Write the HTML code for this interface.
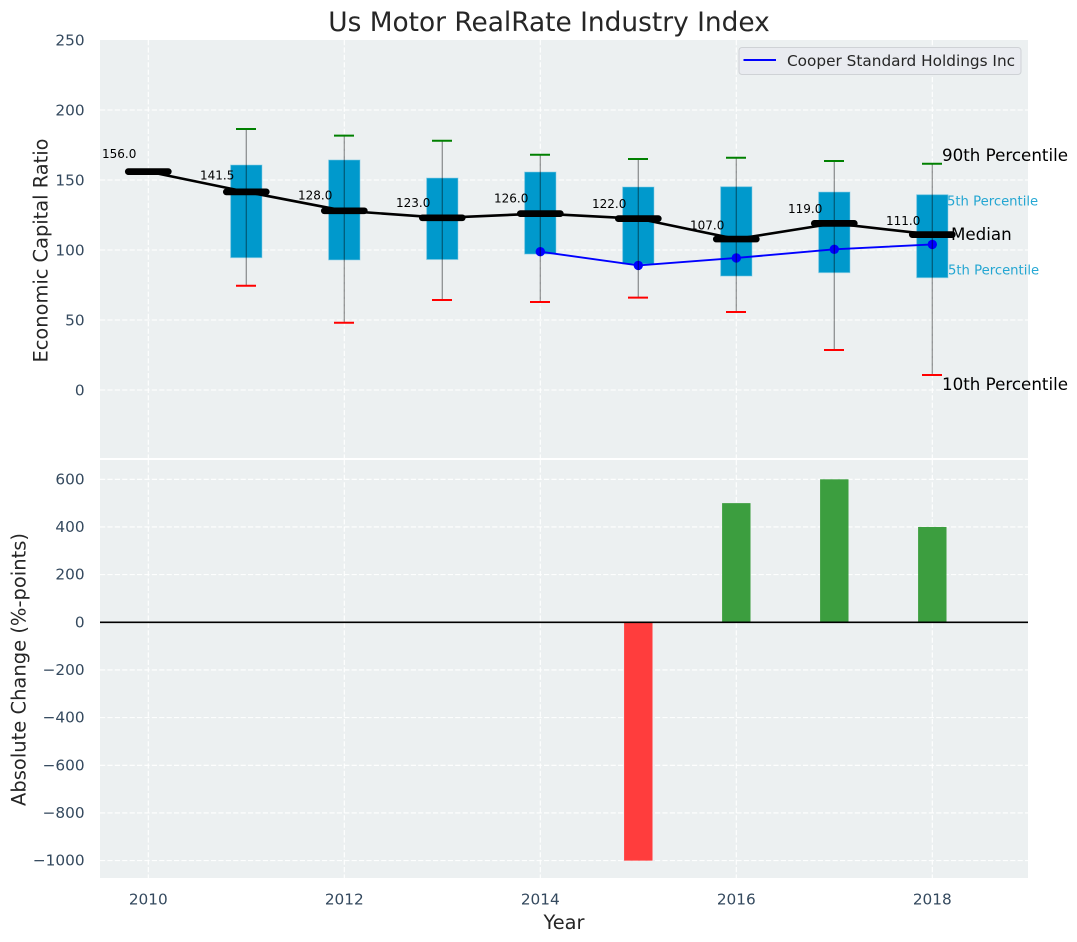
<!DOCTYPE html>
<html lang="en">
<head>
<meta charset="utf-8">
<title>Us Motor RealRate Industry Index</title>
<style>
html,body{margin:0;padding:0;background:#fff;}
svg{display:block;font-family:"DejaVu Sans","Liberation Sans",sans-serif;}
</style>
</head>
<body>
<svg id="chart" width="1077" height="942" viewBox="0 0 1077 942" xmlns="http://www.w3.org/2000/svg">
  <rect x="100" y="40" width="928" height="418" fill="#ecf0f1"/>
  <rect x="100" y="460" width="928" height="418" fill="#ecf0f1"/>
  <g id="grid"></g>
  <g id="annots">
    <text x="938.6" y="205.5" font-size="13.2" fill="#0099cc" fill-opacity="0.85">75th Percentile</text>
    <text x="939.6" y="274.5" font-size="13.2" fill="#0099cc" fill-opacity="0.85">25th Percentile</text>
  </g>
  <g id="boxes"></g>
  <g id="marks"></g>
  <g id="bars"></g>
  <g id="ticks" font-size="15.3" fill="#34495e"></g>
  <g font-size="16.7" fill="#000">
    <text x="942" y="161">90th Percentile</text>
    <text x="951" y="240">Median</text>
    <text x="942" y="390">10th Percentile</text>
  </g>
  <text x="549" y="31" font-size="26.4" fill="#262626" text-anchor="middle">Us Motor RealRate Industry Index</text>
  <text transform="translate(47.5,250.5) rotate(-90)" font-size="19.4" fill="#262626" text-anchor="middle">Economic Capital Ratio</text>
  <text transform="translate(25.5,669.5) rotate(-90)" font-size="19.5" fill="#262626" text-anchor="middle">Absolute Change (%-points)</text>
  <text x="564" y="929" font-size="19.4" fill="#262626" text-anchor="middle">Year</text>
  <g>
    <rect x="739" y="47.5" width="282" height="27" rx="3" fill="#e9ebf0" stroke="#cfd2d6" stroke-width="1"/>
    <line x1="743.5" y1="60" x2="776" y2="60" stroke="#0000ff" stroke-width="2"/>
    <text x="787" y="66" font-size="15.3" fill="#262626">Cooper Standard Holdings Inc</text>
  </g>
</svg>
<script>
var years = [2010, 2011, 2012, 2013, 2014, 2015, 2016, 2017, 2018];
var medians = [156, 141.5, 128, 123, 126, 122.4, 107.8, 119, 111];
var medianLabels = ["156.0", "141.5", "128.0", "123.0", "126.0", "122.0", "107.0", "119.0", "111.0"];
var p90 = [null, 186.4, 181.7, 178, 168, 165, 165.9, 163.6, 161.6];
var p75 = [null, 160.7, 164.3, 151.4, 155.7, 145, 145.2, 141.4, 139.5];
var p25 = [null, 94.5, 92.9, 93.2, 97.1, 90, 81.4, 83.8, 80.2];
var p10 = [null, 74.5, 48, 64.3, 62.9, 66, 55.7, 28.6, 10.7];
var companyYears = [2014, 2015, 2016, 2017, 2018];
var companyValues = [98.8, 89, 94.3, 100.5, 104];
var barYears = [2015, 2016, 2017, 2018];
var barValues = [-1000, 500, 600, 400];
var xTicks = [2010, 2012, 2014, 2016, 2018];
var topTicks = [0, 50, 100, 150, 200, 250];
var bottomTicks = [-1000, -800, -600, -400, -200, 0, 200, 400, 600];

var NS = 'http://www.w3.org/2000/svg';
function linear(d0, d1, r0, r1) {
  return function (v) { return r0 + (v - d0) * (r1 - r0) / (d1 - d0); };
}
var xScale = linear(2010, 2018, 148.3, 932.3);
var yTop = linear(0, 250, 390, 40);
var yBottom = linear(0, 600, 622.3, 479.3);
var pxPerYear = xScale(2011) - xScale(2010);

function make(tag, parentId, attrs) {
  var node = document.createElementNS(NS, tag);
  for (var k in attrs) node.setAttribute(k, attrs[k]);
  document.getElementById(parentId).appendChild(node);
  return node;
}
function minus(v) { return String(v).replace('-', '\u2212'); }
var dash = '5.2 2.2';
var el;

xTicks.forEach(function (t) {
  el = make('line', 'grid', {x1: xScale(t), x2: xScale(t), y1: 40, y2: 458, stroke: '#fff', 'stroke-width': 1.1, 'stroke-dasharray': dash});
  
  
  el = make('line', 'grid', {x1: xScale(t), x2: xScale(t), y1: 460, y2: 878, stroke: '#fff', 'stroke-width': 1.1, 'stroke-dasharray': dash});
  
  
  el = make('text', 'ticks', {x: xScale(t), y: 904.6, 'text-anchor': 'middle'});
  el.textContent = t;
  
  
});
topTicks.forEach(function (t) {
  if (t < 250) {
    el = make('line', 'grid', {x1: 100, x2: 1028, y1: yTop(t), y2: yTop(t), stroke: '#fff', 'stroke-width': 1.1, 'stroke-dasharray': dash});
    
    
  }
  el = make('text', 'ticks', {x: 84.6, y: yTop(t) + 5.6, 'text-anchor': 'end'});
  el.textContent = t;
  
  
});
bottomTicks.forEach(function (t) {
  el = make('line', 'grid', {x1: 100, x2: 1028, y1: yBottom(t), y2: yBottom(t), stroke: '#fff', 'stroke-width': 1.1, 'stroke-dasharray': dash});
  
  
  el = make('text', 'ticks', {x: 84.6, y: yBottom(t) + 5, 'text-anchor': 'end'});
  el.textContent = minus(t);
  
  
});

/* IQR boxes */
var boxWidth = 0.32 * pxPerYear;
years.forEach(function (yr, i) {
  if (p75[i] === null) return;
  el = make('rect', 'boxes', {
    x: xScale(yr) - boxWidth / 2, y: yTop(p75[i]), width: boxWidth, height: yTop(p25[i]) - yTop(p75[i]),
    fill: '#0099cc', stroke: '#7fcbe4', 'stroke-opacity': 0.55, 'stroke-width': 1
  });
  
  
});

/* median connecting line */
el = make('polyline', 'marks', {
  points: years.map(function (yr, i) { return xScale(yr) + ',' + yTop(medians[i]); }).join(' '),
  fill: 'none', stroke: '#000', 'stroke-width': 2.6
});



/* company series */
el = make('polyline', 'marks', {
  points: companyYears.map(function (yr, i) { return xScale(yr) + ',' + yTop(companyValues[i]); }).join(' '),
  fill: 'none', stroke: '#0000ff', 'stroke-width': 1.9
});


companyYears.forEach(function (yr, i) {
  el = make('circle', 'marks', {cx: xScale(yr), cy: yTop(companyValues[i]), r: 4.7, fill: '#0000ff'});
  
  
});

years.forEach(function (yr, i) {
  var cx = xScale(yr);
  if (p90[i] !== null) {
    el = make('line', 'marks', {x1: cx, x2: cx, y1: yTop(p90[i]), y2: yTop(p10[i]), stroke: '#000', 'stroke-opacity': 0.4, 'stroke-width': 1.3});
    
    
    el = make('line', 'marks', {x1: cx - 10.3, x2: cx + 9.7, y1: yTop(p90[i]), y2: yTop(p90[i]), stroke: '#008000', 'stroke-width': 2});
    
    
    el = make('line', 'marks', {x1: cx - 10.3, x2: cx + 9.7, y1: yTop(p10[i]), y2: yTop(p10[i]), stroke: '#ff0000', 'stroke-width': 2});
    
    
  }
  el = make('line', 'marks', {x1: cx - 20, x2: cx + 20, y1: yTop(medians[i]), y2: yTop(medians[i]), stroke: '#000', 'stroke-width': 6.7, 'stroke-linecap': 'round'});
  
  
  el = make('text', 'marks', {x: cx - 46.3, y: yTop(medians[i] * 1.06) - 0.5, 'font-size': 12, fill: '#000'});
  el.textContent = medianLabels[i];
  
  
});

/* bottom bars */
var barWidth = 0.29 * pxPerYear;
barYears.forEach(function (yr, i) {
  var v = barValues[i];
  el = make('rect', 'bars', {
    x: xScale(yr) - barWidth / 2,
    y: Math.min(yBottom(v), yBottom(0)),
    width: barWidth,
    height: Math.abs(yBottom(v) - yBottom(0)),
    fill: v < 0 ? '#ff3d3d' : '#3c9e3f'
  });
  
  
});
el = make('line', 'bars', {x1: 100, x2: 1028, y1: yBottom(0), y2: yBottom(0), stroke: '#000', 'stroke-width': 1.6});


</script>
</body>
</html>
